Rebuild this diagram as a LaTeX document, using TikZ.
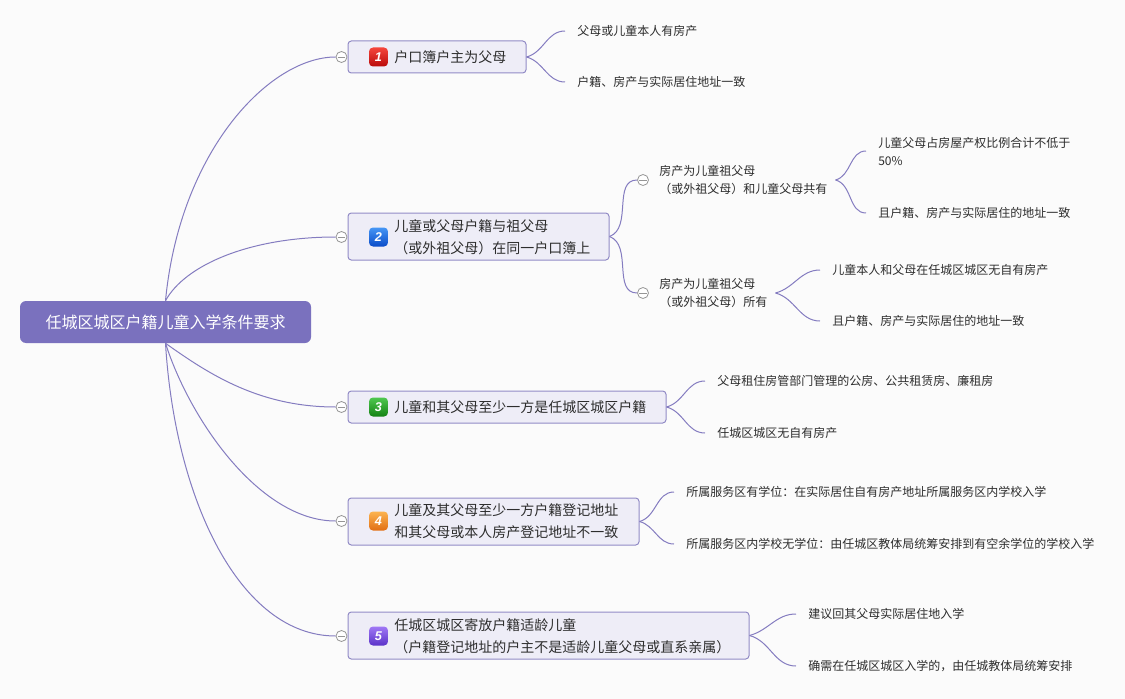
\documentclass[tikz,border=0pt]{standalone}
\usepackage{fontspec}
\setmainfont{Noto Sans CJK SC}
\newfontfamily\numfont{Liberation Sans}
\usetikzlibrary{calc}
\definecolor{bg}{RGB}{251,251,251}
\definecolor{rootc}{RGB}{122,113,190}
\definecolor{linec}{RGB}{132,124,192}
\definecolor{boxfill}{RGB}{238,237,247}
\definecolor{boxline}{RGB}{146,139,198}
\definecolor{txt}{RGB}{45,45,45}
\definecolor{togc}{RGB}{150,150,150}
\begin{document}
\begin{tikzpicture}[x=0.75pt,y=-0.75pt,
  conn/.style={draw=linec,line width=0.75pt},
  topicbox/.style={draw=boxline,fill=boxfill,rounded corners=2.5pt,line width=0.75pt,inner sep=0},
  ttext/.style={anchor=west,inner sep=0,text=txt,font=\fontsize{10.5}{16.5}\selectfont,align=left},
  leaf/.style={anchor=west,inner ysep=0,inner xsep=9pt,text=txt,font=\fontsize{9}{13.5}\selectfont,align=left},
  subtext/.style={anchor=west,inner ysep=0,inner xsep=6pt,text=txt,font=\fontsize{9}{13.5}\selectfont,align=left},
  togg/.style={circle,draw=togc,fill=white,line width=0.6pt,minimum size=8.25pt,inner sep=0,
    path picture={\draw[togc,line width=0.6pt] ([xshift=-2.8pt]path picture bounding box.center) -- ([xshift=2.8pt]path picture bounding box.center);}},
  icon/.style={rounded corners=3pt,minimum size=14.25pt,inner sep=0,text=white,font=\numfont\fontsize{9.5}{9.5}\selectfont\bfseries\itshape},
  branch/.style={conn,out=15,in=180}
]
\fill[bg] (0,0) rectangle (1125,699);
\useasboundingbox (0,0) rectangle (1125,699);

% root
\node[fill=rootc,rounded corners=4.5pt,minimum width=218.25pt,minimum height=31.5pt,inner sep=0,
  text=white,font=\fontsize{12}{12}\selectfont] (root) at (165.5,322) {任城区城区户籍儿童入学条件要求};

% topic boxes
\node[topicbox,minimum width=133.5pt,minimum height=24pt] (t1) at (437,57) {};
\node[topicbox,minimum width=195.75pt,minimum height=35.25pt] (t2) at (478.5,236.5) {};
\node[topicbox,minimum width=238.5pt,minimum height=24pt] (t3) at (507,407) {};
\node[topicbox,minimum width=218.25pt,minimum height=35.25pt] (t4) at (493.5,521.5) {};
\node[topicbox,minimum width=300.75pt,minimum height=35.25pt] (t5) at (548.5,635.5) {};

% icons
\node[icon,top color={rgb,255:red,245;green,70;blue,60},bottom color={rgb,255:red,185;green,10;blue,10}] (i1) at (378.5,57) {1};
\node[icon,top color={rgb,255:red,70;green,150;blue,245},bottom color={rgb,255:red,10;green,75;blue,200}] (i2) at (378.5,237) {2};
\node[icon,top color={rgb,255:red,80;green,200;blue,80},bottom color={rgb,255:red,20;green,130;blue,20}] (i3) at (378.5,407) {3};
\node[icon,top color={rgb,255:red,252;green,180;blue,80},bottom color={rgb,255:red,225;green,110;blue,20}] (i4) at (378.5,521) {4};
\node[icon,top color={rgb,255:red,160;green,120;blue,245},bottom color={rgb,255:red,90;green,50;blue,200}] (i5) at (378.5,636) {5};

% topic texts
\node[ttext] (x1) at (394,57) {户口簿户主为父母};
\node[ttext] (x2) at (394,237) {儿童或父母户籍与祖父母\\（或外祖父母）在同一户口簿上};
\node[ttext] (x3) at (394,407) {儿童和其父母至少一方是任城区城区户籍};
\node[ttext] (x4) at (394,521) {儿童及其父母至少一方户籍登记地址\\和其父母或本人房产登记地址不一致};
\node[ttext] (x5) at (394,636) {任城区城区寄放户籍适龄儿童\\（户籍登记地址的户主不是适龄儿童父母或直系亲属）};

% toggles
\node[togg] (g1) at (341.5,57) {};
\node[togg] (g2) at (341.5,237) {};
\node[togg] (g3) at (341.5,407) {};
\node[togg] (g4) at (341.5,521) {};
\node[togg] (g5) at (341.5,636) {};

% root connectors
\draw[conn] (root.north) .. controls (180,150) and (270,57) .. (g1.west);
\draw[conn] (root.north) .. controls (185,265) and (250,237) .. (g2.west);
\draw[conn] (root.south) .. controls (210,375) and (260,407) .. (g3.west);
\draw[conn] (root.south) .. controls (190,420) and (260,521) .. (g4.west);
\draw[conn] (root.south) .. controls (175,500) and (240,636) .. (g5.west);

% topic 1 leaves
\node[leaf] (l11) at (565,31) {父母或儿童本人有房产};
\node[leaf] (l12) at (565,82) {户籍、房产与实际居住地址一致};
\draw[branch] (t1.east) to (l11.west);
\draw[branch,out=-15] (t1.east) to (l12.west);

% topic 2 subtopics
\node[togg] (g2a) at (643,180) {};
\node[togg] (g2b) at (643,293) {};
\node[subtext] (s2a) at (651,180) {房产为儿童祖父母\\（或外祖父母）和儿童父母共有};
\node[subtext] (s2b) at (651,293) {房产为儿童祖父母\\（或外祖父母）所有};
\draw[conn] (t2.east) to[out=20,in=180] (g2a.west);
\draw[conn] (t2.east) to[out=-20,in=180] (g2b.west);

\node[leaf] (l2a1) at (866,151) {儿童父母占房屋产权比例合计不低于\\50\%};
\node[leaf] (l2a2) at (866,213) {且户籍、房产与实际居住的地址一致};
\draw[branch] (s2a.east) to (l2a1.west);
\draw[branch,out=-15] (s2a.east) to (l2a2.west);

\node[leaf] (l2b1) at (820,270) {儿童本人和父母在任城区城区无自有房产};
\node[leaf] (l2b2) at (820,321) {且户籍、房产与实际居住的地址一致};
\draw[branch] (s2b.east) to (l2b1.west);
\draw[branch,out=-15] (s2b.east) to (l2b2.west);

% topic 3 leaves
\node[leaf] (l31) at (705,381) {父母租住房管部门管理的公房、公共租赁房、廉租房};
\node[leaf] (l32) at (705,433) {任城区城区无自有房产};
\draw[branch] (t3.east) to (l31.west);
\draw[branch,out=-15] (t3.east) to (l32.west);

% topic 4 leaves
\node[leaf] (l41) at (674,492) {所属服务区有学位：在实际居住自有房产地址所属服务区内学校入学};
\node[leaf] (l42) at (674,544) {所属服务区内学校无学位：由任城区教体局统筹安排到有空余学位的学校入学};
\draw[branch] (t4.east) to (l41.west);
\draw[branch,out=-15] (t4.east) to (l42.west);

% topic 5 leaves
\node[leaf] (l51) at (796,614) {建议回其父母实际居住地入学};
\node[leaf] (l52) at (796,666) {确需在任城区城区入学的，由任城教体局统筹安排};
\draw[branch] (t5.east) to (l51.west);
\draw[branch,out=-15] (t5.east) to (l52.west);
\end{tikzpicture}
\end{document}
